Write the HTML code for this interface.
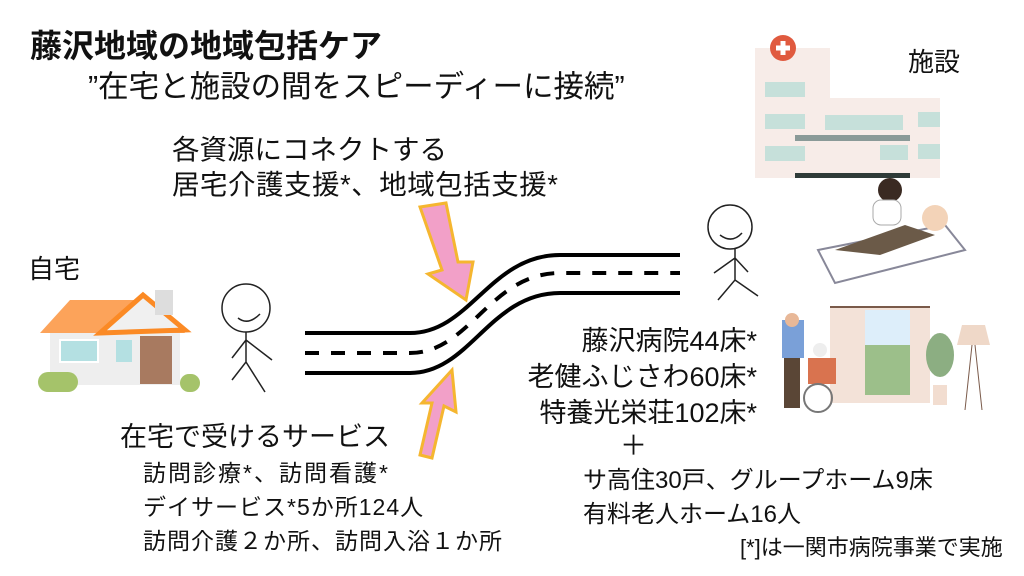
<!DOCTYPE html>
<html><head><meta charset="utf-8"><style>
body{margin:0;width:1024px;height:576px;background:#fff;position:relative;overflow:hidden;font-family:"Liberation Sans","Noto Sans CJK JP",sans-serif;color:#111}
.t{position:absolute;white-space:nowrap;line-height:1}
</style></head><body>
<svg width="1024" height="576" style="position:absolute;left:0;top:0">
<g fill="none" stroke="#000" stroke-width="4">
<path d="M305 333 L410 333 C470 333 490 255 560 255 L680 255"/>
<path d="M305 373 L410 373 C470 373 490 293 560 293 L680 293"/>
<path d="M305 353 L410 353 C470 353 490 273 560 273 L680 273" stroke-dasharray="14 12"/>
</g>
<path d="M420 207 L446 203 L458 262 L473 262 L466 300 L428 274 L442 270 Z" fill="#f2a0c8" stroke="#f5b630" stroke-width="3"/>
<path d="M420 455 L432 403 L422 403 L452 370 L456 412 L444 406 L432 458 Z" fill="#f2a0c8" stroke="#f5b630" stroke-width="3"/>
<rect x="50" y="330" width="130" height="55" fill="#eee"/>
<polygon points="40,333 70,300 150,300 185,333" fill="#fca35a"/>
<polygon points="100,333 143,295 185,330" fill="#f0f0f0" stroke="#fb8a25" stroke-width="5"/>
<rect x="155" y="290" width="18" height="25" fill="#ddd"/>
<rect x="60" y="340" width="38" height="22" fill="#b4e0e2" stroke="#fff" stroke-width="2"/>
<rect x="116" y="340" width="16" height="22" fill="#b4e0e2"/>
<rect x="140" y="336" width="32" height="48" fill="#a87a60"/>
<rect x="38" y="372" width="40" height="20" rx="10" fill="#a5c36a"/>
<rect x="180" y="374" width="20" height="18" rx="9" fill="#a5c36a"/>
<g fill="none" stroke="#222" stroke-width="1.5">
<circle cx="246" cy="308" r="24"/><path d="M238 318 Q248 326 260 314"/>
<path d="M246 332 L246 362 L232 380 M246 362 L265 392 M246 340 L232 358 M246 340 L272 360"/>
<circle cx="730" cy="227" r="22"/><path d="M720 235 Q732 244 742 233"/>
<path d="M735 249 L735 280 L718 300 M735 280 L758 296 M735 258 L714 273 M735 258 L748 272"/>
</g>
<rect x="755" y="48" width="75" height="130" fill="#f7ece8"/>
<rect x="820" y="98" width="120" height="80" fill="#f7ece8"/>
<circle cx="783" cy="48" r="13" fill="#e05a3f"/>
<path d="M783 41v14M776 48h14" stroke="#fff" stroke-width="5"/>
<g fill="#c6e0da"><rect x="765" y="82" width="40" height="15"/><rect x="765" y="114" width="40" height="15"/><rect x="765" y="146" width="40" height="15"/><rect x="825" y="115" width="78" height="15"/><rect x="918" y="112" width="22" height="15"/><rect x="918" y="144" width="22" height="15"/><rect x="880" y="145" width="28" height="15"/></g>
<rect x="795" y="135" width="115" height="6" fill="#8a9a98"/>
<rect x="795" y="173" width="115" height="5" fill="#2f3b38"/>
<path d="M818 250 L945 225 L965 250 L835 283 Z" fill="#fff" stroke="#889" stroke-width="2"/>
<path d="M835 250 L905 225 L935 235 L880 255 Z" fill="#6b5a48"/>
<circle cx="935" cy="218" r="13" fill="#f3d3b8"/>
<circle cx="890" cy="190" r="12" fill="#3a2a22"/><rect x="873" y="200" width="28" height="25" rx="8" fill="#fff" stroke="#aaa"/>
<rect x="830" y="308" width="100" height="95" fill="#f3e2d8"/>
<rect x="865" y="310" width="45" height="85" fill="#9cbf8a"/>
<rect x="865" y="310" width="45" height="35" fill="#ddeefa"/>
<rect x="830" y="306" width="100" height="2" fill="#7a5a4a"/>
<rect x="782" y="320" width="22" height="38" fill="#7aa0d8"/><rect x="784" y="358" width="16" height="50" fill="#5a4636"/>
<circle cx="792" cy="320" r="7" fill="#e8b898"/>
<rect x="808" y="358" width="28" height="26" fill="#d9734f"/><circle cx="820" cy="350" r="7" fill="#eee"/>
<circle cx="818" cy="398" r="14" fill="none" stroke="#777" stroke-width="2"/>
<ellipse cx="940" cy="355" rx="14" ry="22" fill="#8cae82"/>
<rect x="933" y="385" width="14" height="20" fill="#f2ddd0"/>
<polygon points="962,325 985,325 990,345 957,345" fill="#efd8c8"/>
<path d="M972 345 L965 410 M975 345 L982 410" stroke="#7a5a4a"/>
</svg>
<div class="t" style="left:30px;top:30px;font-size:32px;font-weight:bold">藤沢地域の地域包括ケア</div>
<div class="t" style="left:88px;top:72px;font-size:30.5px">”在宅と施設の間をスピーディーに接続”</div>
<div class="t" style="left:172px;top:136px;font-size:27.5px">各資源にコネクトする</div>
<div class="t" style="left:172px;top:171px;font-size:27.5px;letter-spacing:0.5px">居宅介護支援*、地域包括支援*</div>
<div class="t" style="left:28px;top:256px;font-size:26px">自宅</div>
<div class="t" style="left:908px;top:49px;font-size:26px">施設</div>
<div class="t" style="left:120px;top:424px;font-size:27px">在宅で受けるサービス</div>
<div class="t" style="left:143px;top:462px;font-size:23px;letter-spacing:2px">訪問診療*、訪問看護*</div>
<div class="t" style="left:143px;top:496px;font-size:23px;letter-spacing:1px">デイサービス*5か所124人</div>
<div class="t" style="left:143px;top:530px;font-size:23px;letter-spacing:1px">訪問介護２か所、訪問入浴１か所</div>
<div class="t" style="right:267px;top:328px;font-size:27px">藤沢病院44床*</div>
<div class="t" style="right:267px;top:364px;font-size:27px">老健ふじさわ60床*</div>
<div class="t" style="right:267px;top:400px;font-size:27px">特養光栄荘102床*</div>
<div class="t" style="left:620px;top:433px;font-size:27px">＋</div>
<div class="t" style="left:583px;top:469px;font-size:24px">サ高住30戸、グループホーム9床</div>
<div class="t" style="left:583px;top:503px;font-size:24px">有料老人ホーム16人</div>
<div class="t" style="left:740px;top:537px;font-size:22px">[*]は一関市病院事業で実施</div>
</body></html>
